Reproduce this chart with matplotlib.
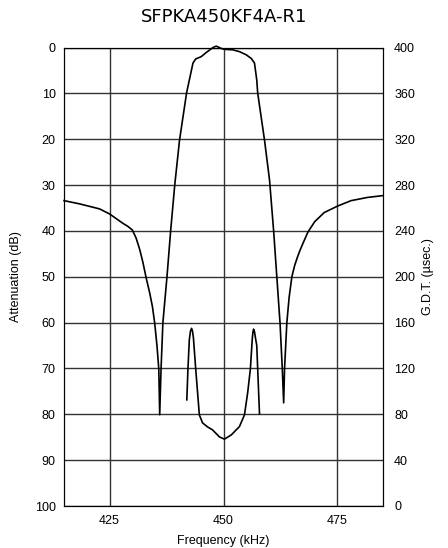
import matplotlib
matplotlib.use('Agg')
import matplotlib.pyplot as plt

# Attenuation curve (left axis, dB)
att_freq = [415.0, 418.4, 422.8, 425.0, 426.0, 427.0, 428.0, 429.0, 430.0, 430.8,
            431.6, 432.3, 433.0, 433.8, 434.4, 434.9, 435.4, 435.8, 436.0, 436.3,
            436.7, 437.6, 438.4, 439.3, 440.35, 441.9, 442.5, 443.3, 443.9, 445.1,
            446.2, 447.7, 448.4, 449.5, 450.2, 452.0, 453.5, 455.0, 456.1, 456.8,
            457.3, 457.5, 459.0, 460.1, 461.0, 461.7, 462.4, 462.9, 463.2, 463.4,
            463.9, 464.4, 465.0, 465.6, 466.2, 466.8, 467.4, 468.5, 470.0, 472.1,
            475.0, 478.0, 481.6, 485.0]
att_db = [33.4, 34.1, 35.2, 36.3, 37.0, 37.7, 38.4, 39.0, 39.8, 41.5,
          44.0, 46.8, 50.1, 53.5, 56.5, 60.1, 65.0, 70.1, 80.1, 70.0,
          60.0, 50.0, 40.0, 30.0, 20.2, 9.9, 7.1, 3.4, 2.5, 2.0,
          1.1, 0.0, -0.3, 0.2, 0.4, 0.5, 0.9, 1.6, 2.4, 3.4,
          7.1, 9.9, 20.2, 28.9, 40.0, 50.0, 60.0, 70.0, 77.5, 70.0,
          60.0, 54.5, 50.0, 47.6, 45.8, 44.2, 42.8, 40.3, 38.0, 36.0,
          34.6, 33.4, 32.7, 32.3]

# Group delay curve (right axis, usec)
gdt_freq = [441.95, 442.2, 442.5, 442.75, 443.0, 443.2, 443.4, 443.9, 444.7, 445.4,
            446.5, 447.6, 449.1, 450.2, 451.7, 453.5, 454.6, 455.3, 455.9, 456.3,
            456.45, 456.6, 456.8, 457.0, 457.3, 457.5, 457.9]
gdt_us = [92.6, 119.7, 145.0, 152.5, 155.0, 152.5, 146.7, 119.7, 79.5, 72.5,
          69.0, 66.4, 60.3, 58.3, 62.0, 69.3, 79.5, 98.7, 119.7, 145.0,
          151.5, 154.3, 152.0, 147.0, 140.0, 119.7, 80.3]

att_ticks = list(range(0, 101, 10))
gdt_ticks = list(range(0, 401, 40))
freq_ticks = [425, 450, 475]

plt.rcParams['font.family'] = ['Liberation Sans', 'DejaVu Sans']

fig = plt.figure(figsize=(4.48, 5.48), dpi=100)
ax = fig.add_axes([64 / 448, 1 - 506 / 548, (383 - 64) / 448, (506 - 47.5) / 548])

ax.plot(att_freq, att_db, color='black', lw=1.2, clip_on=False)
ax.set_xlim(415, 485)
ax.set_ylim(100, 0)
ax.set_xticks(freq_ticks)
ax.set_yticks(att_ticks)
ax.grid(True, color='#333333', lw=1.0)
ax.tick_params(axis='y', length=0, labelsize=9, pad=6)
ax.tick_params(axis='x', length=0, labelsize=9, pad=6.5)
ax.set_xlabel('Frequency (kHz)', fontsize=9, labelpad=6)
ax.set_ylabel('Attenuation (dB)', fontsize=9, labelpad=9)
for s in ax.spines.values():
    s.set_color('black')

ax2 = ax.twinx()
ax2.plot(gdt_freq, gdt_us, color='black', lw=1.2)
ax2.set_ylim(0, 400)
ax2.set_yticks(gdt_ticks)
ax2.tick_params(length=0, labelsize=9, pad=8)
ax2.set_ylabel('G.D.T. (\u00b5sec.)', fontsize=9, labelpad=5)

fig.text(0.5, 1 - 17 / 548, 'SFPKA450KF4A-R1', ha='center', va='center',
         fontsize=13, family=['DejaVu Sans'])

fig.savefig('out.png', dpi=100)
